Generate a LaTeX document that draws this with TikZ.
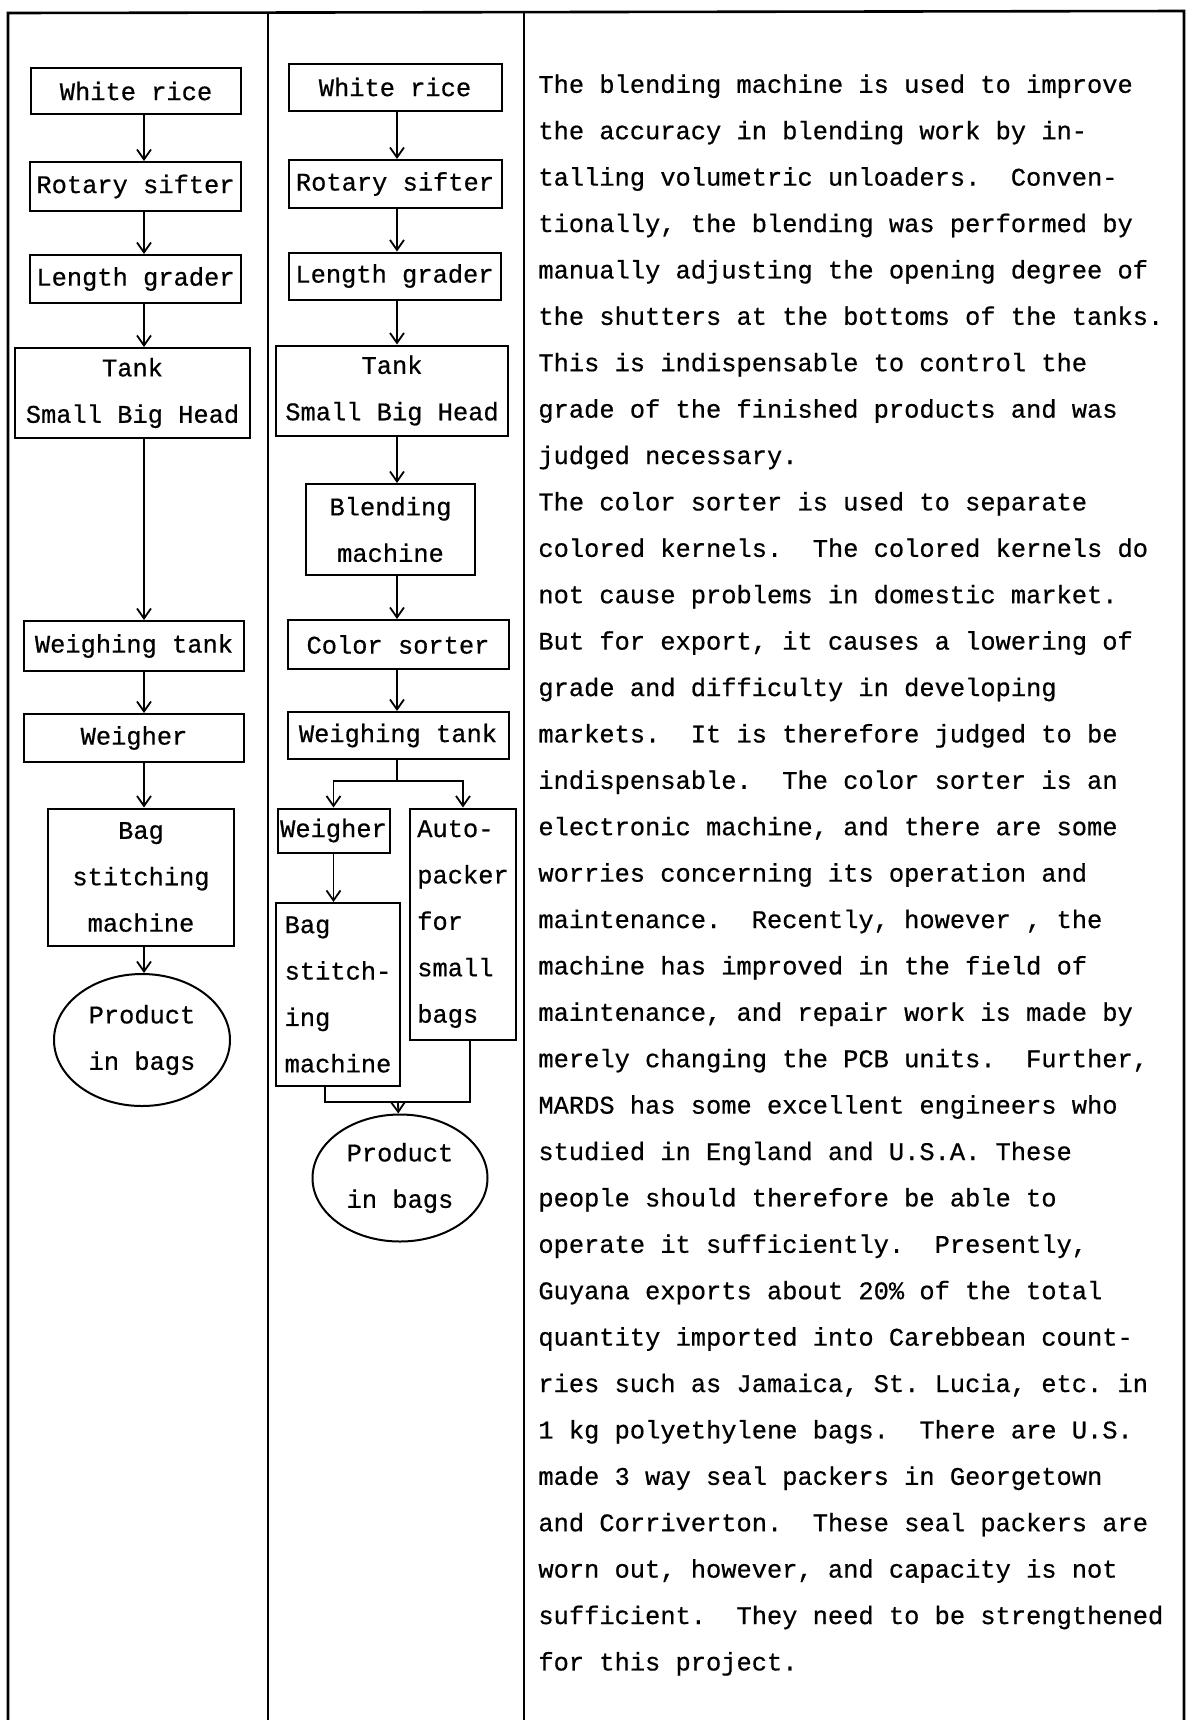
\documentclass[tikz,border=0pt]{standalone}
\usepackage{fontspec}
\newfontfamily\typewriter[FakeBold=0.6]{Liberation Mono}
\usepackage{tikz}
\usetikzlibrary{arrows.meta,shapes.geometric}
\tikzset{
  node-box/.style={draw,line width=1pt,align=center,inner sep=0pt,
    font=\typewriter\fontsize{12.7}{23.2}\selectfont},
  node-ragged/.style={node-box,align=left},
  node-oval/.style={node-box,ellipse},
  box-size/.style 2 args={minimum width=#1*0.5pt,minimum height=#2*0.5pt},
  note-text/.style={align=left,inner sep=0pt,
    font=\typewriter\fontsize{12.7}{23.2}\selectfont},
  arrow/.style={-{Straight Barb[length=5pt,width=7pt]},line width=0.9pt},
  link/.style={line width=0.9pt},
  frame-rule/.style={line width=1.3pt},
}
\frenchspacing

\begin{document}
\begin{tikzpicture}[x=0.5pt,y=-0.5pt]
  \useasboundingbox (0,0) rectangle (1187,1720);
  \draw[frame-rule] (8,1720) -- (8,13) -- (1184,11) -- (1184,1720);
  \draw[frame-rule] (268,12) -- (268,1720);
  \draw[frame-rule] (524,12) -- (524,1720);
  \coordinate (lax) at (144,0);
  \coordinate (rax) at (397,0);
  % left flow
  \node[node-box,box-size={210}{46}]  (lrice)      at (136,91)    {White rice};
  \node[node-box,box-size={211}{49}]  (lsift)      at (135.5,186.5) {Rotary sifter};
  \node[node-box,box-size={211}{48}]  (lgrade)     at (135.5,279) {Length grader};
  \node[node-box,box-size={235}{90}]  (ltank)      at (132.5,393) {Tank\\Small Big Head};
  \node[node-box,box-size={220}{50}]  (lweightank) at (134,646)   {Weighing tank};
  \node[node-box,box-size={220}{48}]  (lweigher)   at (134,738)   {Weigher};
  \node[node-box,box-size={186}{137}] (lstitch)    at (141,877)   {Bag\\stitching\\machine};
  \node[node-oval,box-size={176}{132}] (lproduct)  at (142,1040)  {Product\\in bags};
  % right flow
  \node[node-box,box-size={213}{47}]  (rrice)      at (395,87)    {White rice};
  \node[node-box,box-size={213}{48}]  (rsift)      at (395,184)   {Rotary sifter};
  \node[node-box,box-size={212}{47}]  (rgrade)     at (394.5,276) {Length grader};
  \node[node-box,box-size={232}{90}]  (rtank)      at (392,390.5) {Tank\\Small Big Head};
  \node[node-box,box-size={169}{91}]  (rblend)     at (390.5,529.5) {Blending\\machine};
  \node[node-box,box-size={221}{49}]  (rsorter)    at (398,644.5) {Color sorter};
  \node[node-box,box-size={221}{47}]  (rweightank) at (398,735.5) {Weighing tank};
  \node[node-box,box-size={112}{44}]  (rweigher)   at (333.5,830.5) {Weigher};
  \node[node-ragged,box-size={106}{231}] (rpacker) at (463,924)   {Auto-\\packer\\for\\small\\bags};
  \node[node-ragged,box-size={124}{183}] (rstitch) at (338,994.5) {Bag\\stitch-\\ing\\machine};
  \node[node-oval,box-size={175}{127}] (rproduct)  at (400,1178)  {Product\\in bags};
  \coordinate (rsplit) at (397,781);
  \coordinate (rjoin)  at (398,1102);
  \draw[arrow] (lrice.south -| lax)      -- (lsift.north -| lax);
  \draw[arrow] (lsift.south -| lax)      -- (lgrade.north -| lax);
  \draw[arrow] (lgrade.south -| lax)     -- (ltank.north -| lax);
  \draw[arrow] (ltank.south -| lax)      -- (lweightank.north -| lax);
  \draw[arrow] (lweightank.south -| lax) -- (lweigher.north -| lax);
  \draw[arrow] (lweigher.south -| lax)   -- (lstitch.north -| lax);
  \draw[arrow] (lstitch.south -| lax)    -- (lproduct.north -| lax);
  \draw[arrow] (rrice.south -| rax)      -- (rsift.north -| rax);
  \draw[arrow] (rsift.south -| rax)      -- (rgrade.north -| rax);
  \draw[arrow] (rgrade.south -| rax)     -- (rtank.north -| rax);
  \draw[arrow] (rtank.south -| rax)      -- (rblend.north -| rax);
  \draw[arrow] (rblend.south -| rax)     -- (rsorter.north -| rax);
  \draw[arrow] (rsorter.south -| rax)    -- (rweightank.north -| rax);
  \draw[link]  (rweightank.south -| rax) -- (rsplit);
  \draw[arrow] (rsplit) -| (rweigher);
  \draw[arrow] (rsplit) -| (rpacker);
  \draw[arrow] (rweigher.south) -- (rweigher.south |- rstitch.north);
  \draw[link]  ([xshift=-6.5pt]rstitch.south) |- (rjoin) -| ([xshift=3.5pt]rpacker.south);
  \draw[arrow] (rjoin) -- (rproduct);
  % remarks
  \node[note-text,anchor=north west] (note) at (538,74) {%
The blending machine is used to improve\\
the accuracy in blending work by in-\\
talling volumetric unloaders.~~Conven-\\
tionally, the blending was performed by\\
manually adjusting the opening degree of\\
the shutters at the bottoms of the tanks.\\
This is indispensable to control the\\
grade of the finished products and was\\
judged necessary.\\
The color sorter is used to separate\\
colored kernels.~~The colored kernels do\\
not cause problems in domestic market.\\
But for export, it causes a lowering of\\
grade and difficulty in developing\\
markets.~~It is therefore judged to be\\
indispensable.~~The color sorter is an\\
electronic machine, and there are some\\
worries concerning its operation and\\
maintenance.~~Recently, however , the\\
machine has improved in the field of\\
maintenance, and repair work is made by\\
merely changing the PCB units.~~Further,\\
MARDS has some excellent engineers who\\
studied in England and U.S.A. These\\
people should therefore be able to\\
operate it sufficiently.~~Presently,\\
Guyana exports about 20\% of the total\\
quantity imported into Carebbean count-\\
ries such as Jamaica, St. Lucia, etc. in\\
1 kg polyethylene bags.~~There are U.S.\\
made 3 way seal packers in Georgetown\\
and Corriverton.~~These seal packers are\\
worn out, however, and capacity is not\\
sufficient.~~They need to be strengthened\\
for this project.};
\end{tikzpicture}
\end{document}
